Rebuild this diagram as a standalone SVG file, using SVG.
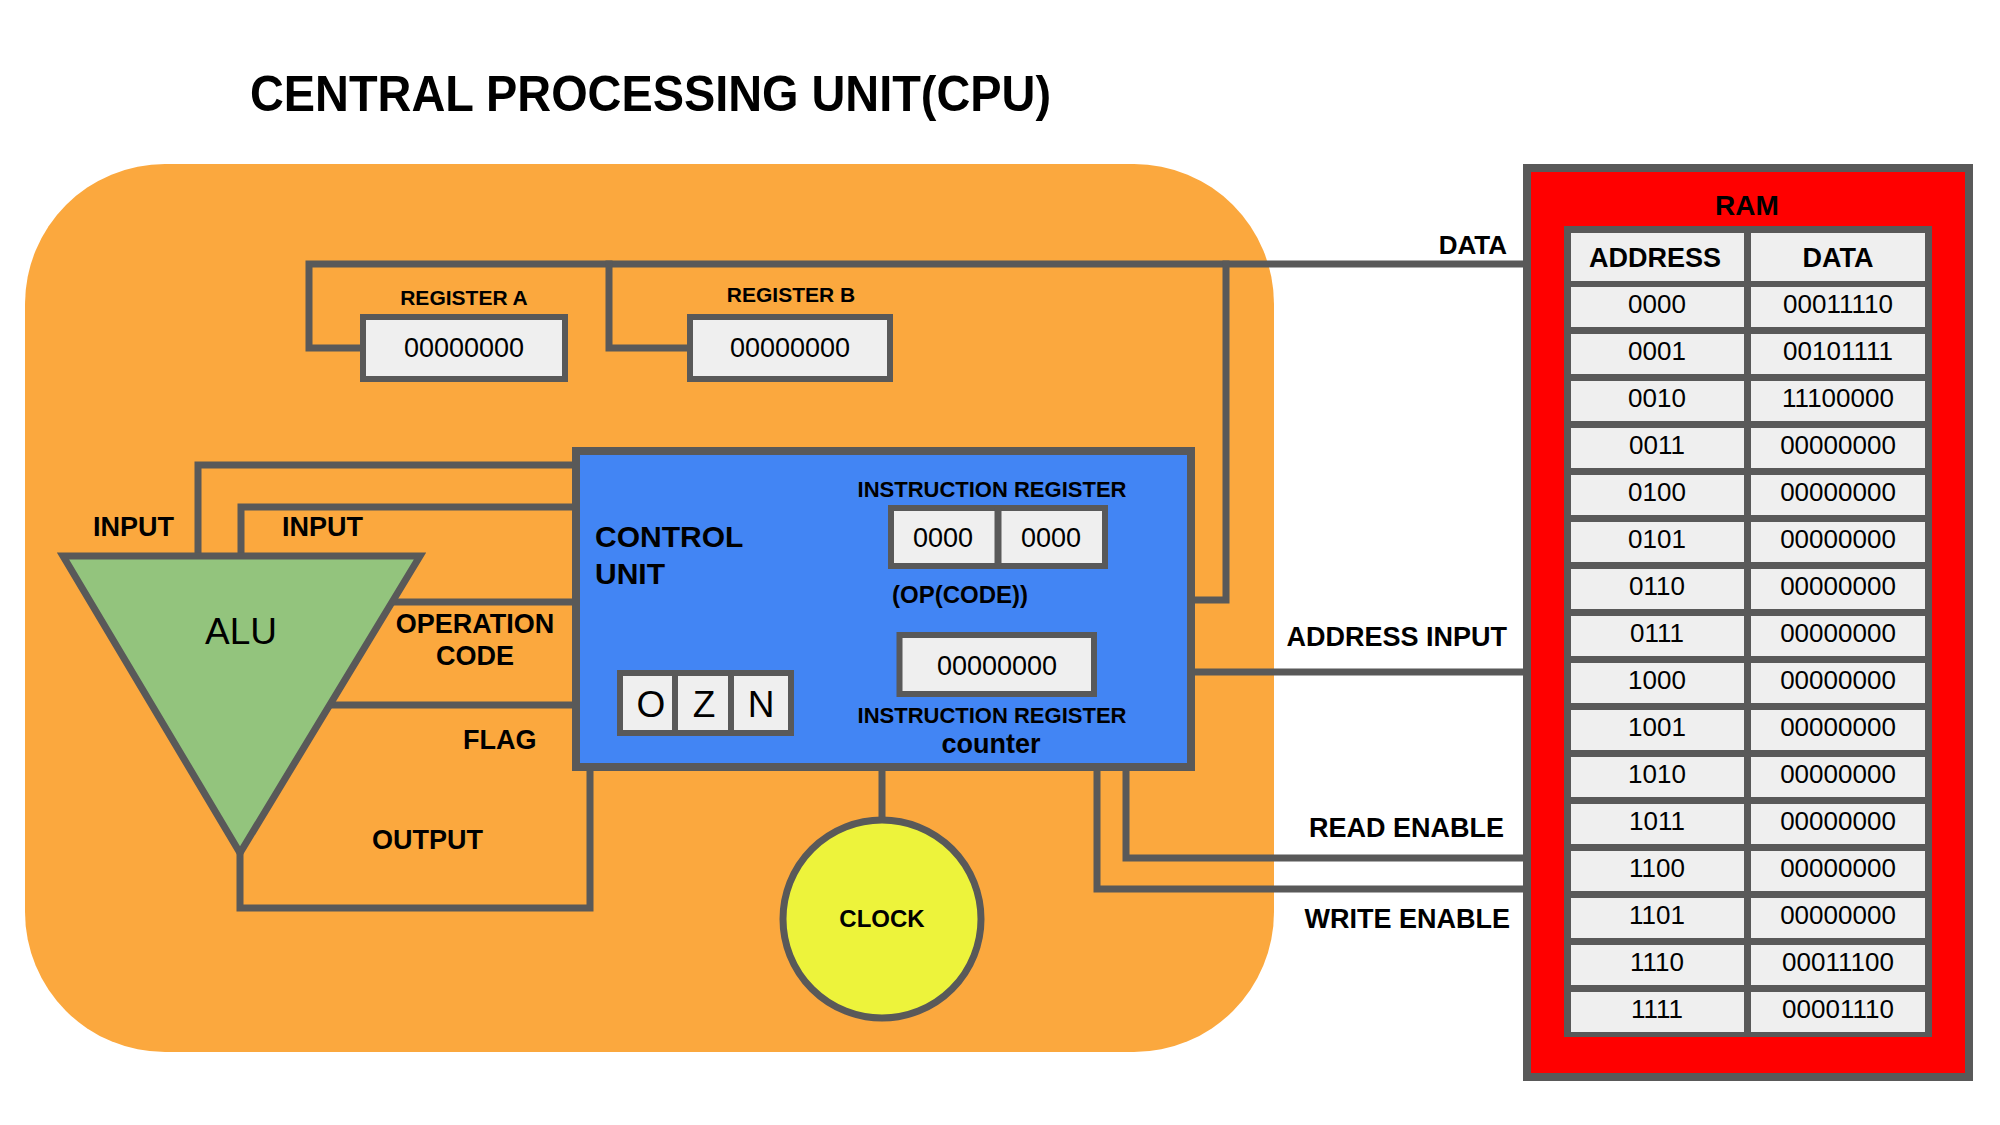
<svg xmlns="http://www.w3.org/2000/svg" width="2000" height="1125" viewBox="0 0 2000 1125">
<style>
.t{font-family:"Liberation Sans",Arial,sans-serif;fill:#000}
.b{font-weight:bold}
.c{text-anchor:middle}
.e{text-anchor:end}
.ln{fill:none;stroke:#595959;stroke-width:7;stroke-linejoin:miter;stroke-linecap:square}
.box{fill:#EFEFEF;stroke:#595959;stroke-width:6}
.cell{fill:#EFEFEF}
.lbl{font-size:27px}
.val{font-size:27px}
.rv{font-size:26px}
</style>
<rect x="0" y="0" width="2000" height="1125" fill="#FFFFFF"/>
<text class="t b" x="250" y="111" font-size="50" textLength="801" lengthAdjust="spacingAndGlyphs">CENTRAL PROCESSING UNIT(CPU)</text>
<g id="cpu">
<rect x="25" y="164" width="1249" height="888" rx="140" ry="140" fill="#FBA83E"/>
</g>
<g id="connectors">
<path class="ln" d="M360,348 H309 V264 H1524"/>
<path class="ln" d="M687,348 H609 V264"/>
<path class="ln" d="M1226,264 V600 H1191"/>
<path class="ln" d="M576,465 H198 V556"/>
<path class="ln" d="M576,507 H241 V556"/>
<path class="ln" d="M397,602 H576"/>
<path class="ln" d="M333,705 H617"/>
<path class="ln" d="M240,853 V908 H590 V767"/>
<path class="ln" d="M882,767 V821"/>
<path class="ln" d="M1191,672 H1524"/>
<path class="ln" d="M1126,767 V858 H1524"/>
<path class="ln" d="M1097,767 V889 H1524"/>
</g>
<g id="register-a">
<text class="t b c" x="464" y="305" font-size="21">REGISTER A</text>
<rect class="box" x="363" y="317" width="202" height="62"/>
<text class="t c val" x="464" y="357">00000000</text>
</g>
<g id="register-b">
<text class="t b c" x="791" y="302" font-size="21">REGISTER B</text>
<rect class="box" x="690" y="317" width="200" height="62"/>
<text class="t c val" x="790" y="357">00000000</text>
</g>
<g id="alu">
<polygon points="63,556 420,556 240,853" fill="#93C47D" stroke="#595959" stroke-width="7" stroke-linejoin="miter"/>
<text class="t c" x="241" y="644" font-size="37">ALU</text>
</g>
<g id="labels">
<text class="t b lbl" x="93" y="536">INPUT</text>
<text class="t b lbl" x="282" y="536">INPUT</text>
<text class="t b lbl c" x="475" y="633">OPERATION</text>
<text class="t b lbl c" x="475" y="665">CODE</text>
<text class="t b lbl" x="463" y="749">FLAG</text>
<text class="t b lbl" x="372" y="849">OUTPUT</text>
<text class="t b e" x="1507" y="254" font-size="26">DATA</text>
<text class="t b lbl e" x="1507" y="646">ADDRESS INPUT</text>
<text class="t b lbl e" x="1504" y="837">READ ENABLE</text>
<text class="t b lbl e" x="1510" y="928">WRITE ENABLE</text>
</g>
<g id="control-unit">
<rect x="576" y="451" width="615" height="316" fill="#4285F4" stroke="#595959" stroke-width="8"/>
<text class="t b" x="595" y="547" font-size="30">CONTROL</text>
<text class="t b" x="595" y="584" font-size="30">UNIT</text>
<text class="t b c" x="992" y="497" font-size="22">INSTRUCTION REGISTER</text>
<rect class="box" x="891" y="508" width="214" height="58"/>
<line x1="998" y1="508" x2="998" y2="566" stroke="#595959" stroke-width="7"/>
<text class="t c val" x="943" y="547">0000</text>
<text class="t c val" x="1051" y="547">0000</text>
<text class="t b" x="892" y="603" font-size="24">(OP(CODE))</text>
<rect class="box" x="899.5" y="635" width="194.5" height="59"/>
<text class="t c val" x="997" y="675">00000000</text>
<text class="t b c" x="992" y="723" font-size="22">INSTRUCTION REGISTER</text>
<text class="t b c" x="991" y="753" font-size="27">counter</text>
</g>
<g id="flags">
<rect class="box" x="620" y="673" width="171" height="60"/>
<line x1="675" y1="673" x2="675" y2="733" stroke="#595959" stroke-width="6"/>
<line x1="731" y1="673" x2="731" y2="733" stroke="#595959" stroke-width="6"/>
<text class="t c" x="651" y="717" font-size="37">O</text>
<text class="t c" x="704" y="717" font-size="37">Z</text>
<text class="t c" x="761" y="717" font-size="37">N</text>
</g>
<g id="clock">
<circle cx="882" cy="919" r="99" fill="#EDF33B" stroke="#595959" stroke-width="7"/>
<text class="t b c" x="882" y="927" font-size="24">CLOCK</text>
</g>
<g id="ram">
<rect x="1527" y="168" width="442" height="909" fill="#FF0000" stroke="#595959" stroke-width="8"/>
<text class="t b c" x="1747" y="215" font-size="28">RAM</text>
<rect x="1564" y="226" width="368" height="811" fill="#595959"/>
<rect class="cell" x="1571" y="233" width="173" height="48"/>
<rect class="cell" x="1751" y="233" width="174" height="48"/>
<text class="t b c lbl" x="1655" y="267">ADDRESS</text>
<text class="t b c lbl" x="1838" y="267">DATA</text>
<g id="ram-rows">
<rect class="cell" x="1571" y="287" width="173" height="40"/><rect class="cell" x="1751" y="287" width="174" height="40"/>
<text class="t c rv" x="1657" y="313">0000</text><text class="t c rv" x="1838" y="313">00011110</text>
<rect class="cell" x="1571" y="334" width="173" height="40"/><rect class="cell" x="1751" y="334" width="174" height="40"/>
<text class="t c rv" x="1657" y="360">0001</text><text class="t c rv" x="1838" y="360">00101111</text>
<rect class="cell" x="1571" y="381" width="173" height="40"/><rect class="cell" x="1751" y="381" width="174" height="40"/>
<text class="t c rv" x="1657" y="407">0010</text><text class="t c rv" x="1838" y="407">11100000</text>
<rect class="cell" x="1571" y="428" width="173" height="40"/><rect class="cell" x="1751" y="428" width="174" height="40"/>
<text class="t c rv" x="1657" y="454">0011</text><text class="t c rv" x="1838" y="454">00000000</text>
<rect class="cell" x="1571" y="475" width="173" height="40"/><rect class="cell" x="1751" y="475" width="174" height="40"/>
<text class="t c rv" x="1657" y="501">0100</text><text class="t c rv" x="1838" y="501">00000000</text>
<rect class="cell" x="1571" y="522" width="173" height="40"/><rect class="cell" x="1751" y="522" width="174" height="40"/>
<text class="t c rv" x="1657" y="548">0101</text><text class="t c rv" x="1838" y="548">00000000</text>
<rect class="cell" x="1571" y="569" width="173" height="40"/><rect class="cell" x="1751" y="569" width="174" height="40"/>
<text class="t c rv" x="1657" y="595">0110</text><text class="t c rv" x="1838" y="595">00000000</text>
<rect class="cell" x="1571" y="616" width="173" height="40"/><rect class="cell" x="1751" y="616" width="174" height="40"/>
<text class="t c rv" x="1657" y="642">0111</text><text class="t c rv" x="1838" y="642">00000000</text>
<rect class="cell" x="1571" y="663" width="173" height="40"/><rect class="cell" x="1751" y="663" width="174" height="40"/>
<text class="t c rv" x="1657" y="689">1000</text><text class="t c rv" x="1838" y="689">00000000</text>
<rect class="cell" x="1571" y="710" width="173" height="40"/><rect class="cell" x="1751" y="710" width="174" height="40"/>
<text class="t c rv" x="1657" y="736">1001</text><text class="t c rv" x="1838" y="736">00000000</text>
<rect class="cell" x="1571" y="757" width="173" height="40"/><rect class="cell" x="1751" y="757" width="174" height="40"/>
<text class="t c rv" x="1657" y="783">1010</text><text class="t c rv" x="1838" y="783">00000000</text>
<rect class="cell" x="1571" y="804" width="173" height="40"/><rect class="cell" x="1751" y="804" width="174" height="40"/>
<text class="t c rv" x="1657" y="830">1011</text><text class="t c rv" x="1838" y="830">00000000</text>
<rect class="cell" x="1571" y="851" width="173" height="40"/><rect class="cell" x="1751" y="851" width="174" height="40"/>
<text class="t c rv" x="1657" y="877">1100</text><text class="t c rv" x="1838" y="877">00000000</text>
<rect class="cell" x="1571" y="898" width="173" height="40"/><rect class="cell" x="1751" y="898" width="174" height="40"/>
<text class="t c rv" x="1657" y="924">1101</text><text class="t c rv" x="1838" y="924">00000000</text>
<rect class="cell" x="1571" y="945" width="173" height="40"/><rect class="cell" x="1751" y="945" width="174" height="40"/>
<text class="t c rv" x="1657" y="971">1110</text><text class="t c rv" x="1838" y="971">00011100</text>
<rect class="cell" x="1571" y="992" width="173" height="40"/><rect class="cell" x="1751" y="992" width="174" height="40"/>
<text class="t c rv" x="1657" y="1018">1111</text><text class="t c rv" x="1838" y="1018">00001110</text>
</g>
</g>
</svg>
